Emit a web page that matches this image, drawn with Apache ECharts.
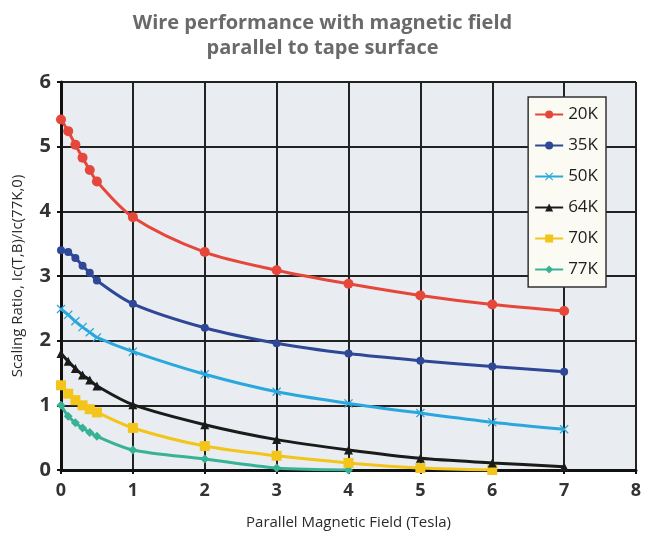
<!DOCTYPE html>
<html>
<head>
<meta charset="utf-8">
<script src="https://cdn.jsdelivr.net/npm/echarts@6/dist/echarts.min.js"></script>
<style>
  html, body { margin: 0; padding: 0; background: #fff; }
  #chart { width: 645px; height: 535px; }
</style>
</head>
<body>
<div id="chart"></div>
<script>
// field values (Tesla)
var fieldFine = [0, 0.1, 0.2, 0.3, 0.4, 0.5, 1, 2, 3, 4, 5, 6, 7];
var field70 = [0, 0.1, 0.2, 0.3, 0.4, 0.5, 1, 2, 3, 4, 5, 6];
var field77 = [0, 0.1, 0.2, 0.3, 0.4, 0.5, 1, 2, 3, 4];

var k20 = [5.42, 5.24, 5.03, 4.83, 4.64, 4.46, 3.91, 3.37, 3.09, 2.88, 2.7, 2.56, 2.46];
var k35 = [3.4, 3.37, 3.28, 3.16, 3.05, 2.93, 2.57, 2.2, 1.96, 1.8, 1.69, 1.6, 1.52];
var k50 = [2.49, 2.4, 2.3, 2.21, 2.13, 2.05, 1.83, 1.48, 1.21, 1.03, 0.88, 0.74, 0.63];
var k64 = [1.8, 1.68, 1.57, 1.47, 1.39, 1.3, 1.01, 0.7, 0.47, 0.31, 0.18, 0.11, 0.05];
var k70 = [1.31, 1.18, 1.08, 1.0, 0.94, 0.89, 0.65, 0.37, 0.22, 0.11, 0.03, 0.0];
var k77 = [1.0, 0.83, 0.73, 0.65, 0.58, 0.52, 0.31, 0.17, 0.03, 0.0];

var names = ['20K', '35K', '50K', '64K', '70K', '77K'];
var colors = ['#e5473b', '#2e4796', '#2aa8de', '#1b1b1b', '#f3c41a', '#38b295'];
var symbols = [
    'circle',
    'circle',
    'path://M1,0 L5,4 L9,0 L10,1 L6,5 L10,9 L9,10 L5,6 L1,10 L0,9 L4,5 L0,1 Z',
    'triangle',
    'rect',
    'diamond'
];
var symbolSizes = [10, 8, 9, 9, 10, 9];

function pairs(xs, ys) {
    var out = [];
    for (var i = 0; i < ys.length; i++) {
        out.push([xs[i], ys[i]]);
    }
    return out;
}

var seriesData = [
    pairs(fieldFine, k20),
    pairs(fieldFine, k35),
    pairs(fieldFine, k50),
    pairs(fieldFine, k64),
    pairs(field70, k70),
    pairs(field77, k77)
];

var series = [];
for (var i = 0; i < names.length; i++) {
    series.push({
        name: names[i],
        type: 'line',
        data: seriesData[i],
        smooth: 0.3,
        symbol: symbols[i],
        symbolSize: symbolSizes[i],
        showAllSymbol: true,
        itemStyle: { color: colors[i] },
        lineStyle: { color: colors[i], width: 3 },
        z: 10 - i
    });
}

var chart = echarts.init(document.getElementById('chart'));
chart.setOption({
    animation: false,
    textStyle: { fontFamily: '"Open Sans", "Noto Sans", sans-serif' },
    title: {
        text: 'Wire performance with magnetic field\nparallel to tape surface',
        left: 'center',
        top: 6,
        textStyle: {
            fontSize: 20,
            fontWeight: 'bold',
            color: '#6a6a6a',
            lineHeight: 25
        }
    },
    grid: {
        left: 61,
        right: 9,
        top: 82,
        bottom: 63,
        show: true,
        backgroundColor: '#e9ecf0',
        borderWidth: 0
    },
    legend: {
        orient: 'vertical',
        right: 39,
        top: 97,
        data: names,
        itemWidth: 28,
        itemHeight: 10,
        itemGap: 14,
        padding: [9, 8, 9, 6],
        backgroundColor: '#fbfbf3',
        borderColor: '#333',
        borderWidth: 1.5,
        borderRadius: 0,
        textStyle: { fontSize: 17, color: '#1e1e1e' }
    },
    xAxis: {
        type: 'value',
        min: 0,
        max: 8,
        interval: 1,
        name: 'Parallel Magnetic Field (Tesla)',
        nameLocation: 'middle',
        nameGap: 45,
        nameTextStyle: { fontSize: 15, color: '#2a2a2a' },
        axisLine: { lineStyle: { color: '#111', width: 3 } },
        axisTick: { show: true, length: 4, lineStyle: { color: '#111', width: 2 } },
        axisLabel: { fontSize: 18, fontWeight: 'bold', color: '#333', margin: 12 },
        splitLine: { show: true, lineStyle: { color: '#222', width: 2 } }
    },
    yAxis: {
        type: 'value',
        min: 0,
        max: 6,
        interval: 1,
        name: 'Scaling Ratio, Ic(T,B)/Ic(77K,0)',
        nameLocation: 'middle',
        nameGap: 36,
        nameTextStyle: { fontSize: 15, color: '#2a2a2a' },
        axisLine: { show: true, lineStyle: { color: '#111', width: 3 } },
        axisTick: { show: true, length: 4, lineStyle: { color: '#111', width: 2 } },
        axisLabel: { fontSize: 20, fontWeight: 'bold', color: '#333', margin: 10 },
        splitLine: { show: true, lineStyle: { color: '#222', width: 2 } }
    },
    series: series
});
</script>
</body>
</html>
